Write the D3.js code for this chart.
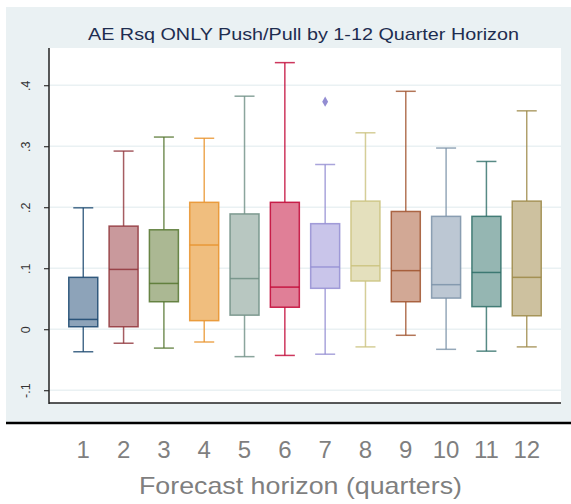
<!DOCTYPE html>
<html>
<head>
<meta charset="utf-8">
<script src="https://cdn.jsdelivr.net/npm/d3@7"></script>
<style>
  body { margin: 0; background: #fff; }
  svg { display: block; font-family: "Liberation Sans", Arial, sans-serif; }
</style>
</head>
<body>
<div id="chart"></div>
<script>
// horizons 1..12
const horizons = ["1", "2", "3", "4", "5", "6", "7", "8", "9", "10", "11", "12"];
const whiskerLow  = [-0.037, -0.023, -0.031, -0.021, -0.045, -0.043, -0.041, -0.029, -0.010, -0.033, -0.036, -0.029];
const q1          = [0.004, 0.004, 0.045, 0.014, 0.023, 0.036, 0.067, 0.079, 0.045, 0.051, 0.037, 0.022];
const medians     = [0.016, 0.098, 0.075, 0.138, 0.083, 0.069, 0.102, 0.104, 0.096, 0.073, 0.093, 0.085];
const q3          = [0.085, 0.169, 0.163, 0.208, 0.189, 0.208, 0.173, 0.210, 0.193, 0.185, 0.185, 0.210];
const whiskerHigh = [0.199, 0.292, 0.315, 0.313, 0.382, 0.437, 0.270, 0.322, 0.390, 0.297, 0.275, 0.358];
const outliers = [{ h: "7", v: 0.373 }];
const yTicks = [-0.1, 0, 0.1, 0.2, 0.3, 0.4];
const yTickLabels = ["-.1", "0", ".1", ".2", ".3", ".4"];

const fills   = ["#8da3b9", "#c9999c", "#abb893", "#f0be7e", "#b8c7c1", "#e07f97",
                 "#c9c5ea", "#e4e0bd", "#d2a895", "#bcc7d3", "#95b6b2", "#cdc19f"];
const strokes = ["#1a476f", "#90353b", "#55752f", "#e8922a", "#6e8e84", "#c10534",
                 "#938dd2", "#cac27e", "#a0522d", "#7b92a8", "#2d6d66", "#9c8847"];

const width = 571, height = 504;
const plot = { left: 49, right: 561, top: 48, bottom: 403 };

const svg = d3.select("#chart").append("svg")
    .attr("width", width)
    .attr("height", height);

// outer graph region
svg.append("rect")
    .attr("x", 6).attr("y", 7)
    .attr("width", width - 6).attr("height", 415)
    .attr("fill", "#eaf1f3");

svg.append("rect")
    .attr("x", plot.left).attr("y", plot.top)
    .attr("width", plot.right - plot.left).attr("height", plot.bottom - plot.top)
    .attr("fill", "#fff");

const x = d3.scalePoint()
    .domain(horizons)
    .range([plot.left, plot.right])
    .padding(0.85);

const y = d3.scaleLinear()
    .domain([-0.121, 0.461])
    .range([plot.bottom, plot.top]);

// gridlines
svg.append("g")
    .selectAll("line")
    .data(yTicks)
    .enter().append("line")
    .attr("x1", plot.left).attr("x2", plot.right)
    .attr("y1", d => y(d)).attr("y2", d => y(d))
    .attr("stroke", "#eaf1f3")
    .attr("stroke-width", 1.5);

// y axis
const yAxis = svg.append("g")
    .attr("transform", `translate(${plot.left},0)`)
    .call(d3.axisLeft(y).tickValues(yTicks).tickSize(5).tickFormat((d, i) => yTickLabels[i]));
yAxis.select(".domain").remove();
yAxis.selectAll(".tick line").attr("stroke", "#333").attr("stroke-width", 1.2);
yAxis.selectAll(".tick text")
    .attr("transform", "rotate(-90)")
    .attr("x", 0).attr("y", -19)
    .attr("dy", 0)
    .style("text-anchor", "middle")
    .style("font-size", "12.5px")
    .attr("fill", "#333");

svg.append("line")
    .attr("x1", plot.left).attr("x2", plot.left)
    .attr("y1", plot.top).attr("y2", plot.bottom + 1)
    .attr("stroke", "#222").attr("stroke-width", 1.5);
svg.append("line")
    .attr("x1", plot.left).attr("x2", plot.right)
    .attr("y1", plot.bottom).attr("y2", plot.bottom)
    .attr("stroke", "#222").attr("stroke-width", 1.5);

// boxes
const boxW = 29, capW = 20;
const boxes = svg.append("g").selectAll("g")
    .data(horizons)
    .enter().append("g")
    .attr("transform", d => `translate(${x(d)},0)`);

boxes.append("line")
    .attr("y1", (d, i) => y(whiskerHigh[i])).attr("y2", (d, i) => y(q3[i]))
    .attr("stroke", (d, i) => strokes[i]).attr("stroke-opacity", 0.8).attr("stroke-width", 1.5);
boxes.append("line")
    .attr("y1", (d, i) => y(q1[i])).attr("y2", (d, i) => y(whiskerLow[i]))
    .attr("stroke", (d, i) => strokes[i]).attr("stroke-opacity", 0.8).attr("stroke-width", 1.5);
boxes.append("line")
    .attr("x1", -capW / 2).attr("x2", capW / 2)
    .attr("y1", (d, i) => y(whiskerHigh[i])).attr("y2", (d, i) => y(whiskerHigh[i]))
    .attr("stroke", (d, i) => strokes[i]).attr("stroke-opacity", 0.8).attr("stroke-width", 1.5);
boxes.append("line")
    .attr("x1", -capW / 2).attr("x2", capW / 2)
    .attr("y1", (d, i) => y(whiskerLow[i])).attr("y2", (d, i) => y(whiskerLow[i]))
    .attr("stroke", (d, i) => strokes[i]).attr("stroke-opacity", 0.8).attr("stroke-width", 1.5);
boxes.append("rect")
    .attr("x", -boxW / 2).attr("width", boxW)
    .attr("y", (d, i) => y(q3[i]))
    .attr("height", (d, i) => y(q1[i]) - y(q3[i]))
    .attr("fill", (d, i) => fills[i])
    .attr("stroke", (d, i) => strokes[i]).attr("stroke-opacity", 0.85).attr("stroke-width", 1.5);
boxes.append("line")
    .attr("x1", -boxW / 2).attr("x2", boxW / 2)
    .attr("y1", (d, i) => y(medians[i])).attr("y2", (d, i) => y(medians[i]))
    .attr("stroke", (d, i) => strokes[i]).attr("stroke-opacity", 0.85).attr("stroke-width", 1.5);

// outside values
svg.append("g").selectAll("path")
    .data(outliers)
    .enter().append("path")
    .attr("d", d3.symbol(d3.symbolDiamond, 30))
    .attr("transform", d => `translate(${x(d.h)},${y(d.v)})`)
    .attr("fill", d => strokes[horizons.indexOf(d.h)]);

// title (stretched a bit, like the original export)
svg.append("text")
    .attr("x", 303.5).attr("y", 40)
    .style("text-anchor", "middle")
    .style("font-size", "17px")
    .attr("textLength", 431)
    .attr("lengthAdjust", "spacingAndGlyphs")
    .attr("fill", "#1e2d50")
    .text("AE Rsq ONLY Push/Pull by 1-12 Quarter Horizon");

// bottom rule
svg.append("line")
    .attr("x1", 6).attr("x2", width)
    .attr("y1", 423).attr("y2", 423)
    .attr("stroke", "#000").attr("stroke-width", 2.5);

// category labels
svg.append("g").selectAll("text")
    .data(horizons)
    .enter().append("text")
    .attr("x", d => x(d)).attr("y", 458)
    .style("text-anchor", "middle")
    .style("font-size", "24px")
    .attr("fill", "#7f7f7f")
    .text(d => d);

svg.append("text")
    .attr("x", 300.5).attr("y", 494)
    .style("text-anchor", "middle")
    .style("font-size", "24px")
    .attr("textLength", 323)
    .attr("lengthAdjust", "spacingAndGlyphs")
    .attr("fill", "#7f7f7f")
    .text("Forecast horizon (quarters)");
</script>
</body>
</html>
